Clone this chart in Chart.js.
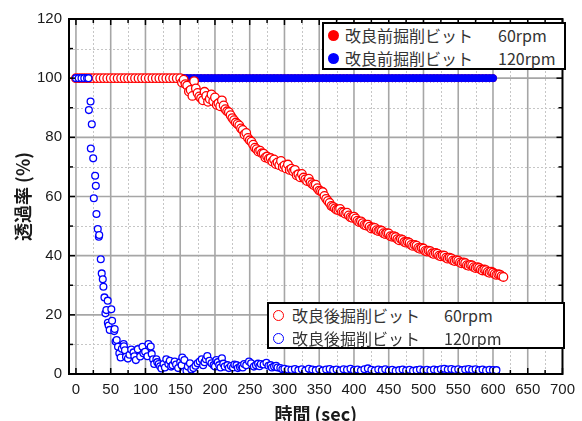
<!DOCTYPE html>
<html lang="ja">
<head>
<meta charset="utf-8">
<script src="https://cdn.jsdelivr.net/npm/chart.js@4.4.1/dist/chart.umd.min.js"></script>
<style>
html,body{margin:0;padding:0;background:#fff}
#wrap{position:relative;width:582px;height:421px}
.legend{position:absolute;background:#fff;border:2px solid #000;box-sizing:border-box;font-family:"Noto Sans CJK JP",sans-serif;font-size:16px;color:#333}
.row{position:absolute;left:0;right:0;height:20px;line-height:20px;white-space:nowrap}
.mark{position:absolute;top:4.5px;left:3.5px;width:11px;height:11px;border-radius:50%;box-sizing:border-box}
.name,.rpm{position:absolute;top:0}
</style>
</head>
<body>
<div id="wrap">
<canvas id="chart" width="582" height="421"></canvas>

<div class="legend" style="left:322px;top:22px;width:244px;height:48px">
  <div class="row" style="top:1px"><span class="mark" style="background:#ff0000"></span><span class="name" style="left:21px">改良前掘削ビット</span><span class="rpm" style="left:174px">60rpm</span></div>
  <div class="row" style="top:24px"><span class="mark" style="background:#0000ff"></span><span class="name" style="left:21px">改良前掘削ビット</span><span class="rpm" style="left:174px">120rpm</span></div>
</div>

<div class="legend" style="left:267px;top:302px;width:298px;height:47px">
  <div class="row" style="top:1px"><span class="mark" style="border:1.6px solid #ff0000"></span><span class="name" style="left:23px">改良後掘削ビット</span><span class="rpm" style="left:175px">60rpm</span></div>
  <div class="row" style="top:24px"><span class="mark" style="border:1.6px solid #0000ff"></span><span class="name" style="left:23px">改良後掘削ビット</span><span class="rpm" style="left:175px">120rpm</span></div>
</div>
</div>

<script>
/* ---------------- DATA ---------------- */

const xTicks = [0,50,100,150,200,250,300,350,400,450,500,550,600,650,700]
const yTicks = [0,20,40,60,80,100,120]

// 改良前 (both speeds stay at 100 %)
const beforeTime = [
0,5,10,15,20,25,30,35,40,45,50,55,60,65,70,75,80,85,90,95,
100,105,110,115,120,125,130,135,140,145,150,155,160,165,170,175,180,185,190,195,
200,205,210,215,220,225,230,235,240,245,250,255,260,265,270,275,280,285,290,295,
300,305,310,315,320,325,330,335,340,345,350,355,360,365,370,375,380,385,390,395,
400,405,410,415,420,425,430,435,440,445,450,455,460,465,470,475,480,485,490,495,
500,505,510,515,520,525,530,535,540,545,550,555,560,565,570,575,580,585,590,595,
600]
const before60Vals = [
100,100,100,100,100,100,100,100,100,100,100,100,100,100,100,100,100,100,100,100,
100,100,100,100,100,100,100,100,100,100,100,100,100,100,100,100,100,100,100,100,
100,100,100,100,100,100,100,100,100,100,100,100,100,100,100,100,100,100,100,100,
100,100,100,100,100,100,100,100,100,100,100,100,100,100,100,100,100,100,100,100,
100,100,100,100,100,100,100,100,100,100,100,100,100,100,100,100,100,100,100,100,
100,100,100,100,100,100,100,100,100,100,100,100,100,100,100,100,100,100,100,100,
100]
const before120Vals = [
100,100,100,100,100,100,100,100,100,100,100,100,100,100,100,100,100,100,100,100,
100,100,100,100,100,100,100,100,100,100,100,100,100,100,100,100,100,100,100,100,
100,100,100,100,100,100,100,100,100,100,100,100,100,100,100,100,100,100,100,100,
100,100,100,100,100,100,100,100,100,100,100,100,100,100,100,100,100,100,100,100,
100,100,100,100,100,100,100,100,100,100,100,100,100,100,100,100,100,100,100,100,
100,100,100,100,100,100,100,100,100,100,100,100,100,100,100,100,100,100,100,100,
100]

// 改良後 60rpm
const after60Time = [
0,5,10,15,20,25,30,35,40,45,50,55,60,65,70,75,80,85,90,95,
100,105,110,115,120,125,130,135,140,145,
150,152.5,155,157.5,160,162.5,165,167.5,170,172.5,175,177.5,180,182.5,185,187.5,190,192.5,195,197.5,
200,202.5,205,207.5,210,212.5,215,217.5,220,222.5,225,227.5,230,232.5,235,237.5,240,242.5,245,247.5,
250,252.5,255,257.5,260,262.5,265,267.5,270,272.5,275,277.5,280,282.5,285,287.5,290,292.5,295,297.5,
300,302.5,305,307.5,310,312.5,315,317.5,320,322.5,325,327.5,330,332.5,335,337.5,340,342.5,345,347.5,
350,352.5,355,357.5,360,362.5,365,367.5,370,372.5,375,377.5,380,382.5,385,387.5,390,392.5,395,397.5,
400,402.5,405,407.5,410,412.5,415,417.5,420,422.5,425,427.5,430,432.5,435,437.5,440,442.5,445,447.5,
450,452.5,455,457.5,460,462.5,465,467.5,470,472.5,475,477.5,480,482.5,485,487.5,490,492.5,495,497.5,
500,502.5,505,507.5,510,512.5,515,517.5,520,522.5,525,527.5,530,532.5,535,537.5,540,542.5,545,547.5,
550,552.5,555,557.5,560,562.5,565,567.5,570,572.5,575,577.5,580,582.5,585,587.5,590,592.5,595,597.5,
600,602.5,605,607.5,610,612.5,615]
const after60Vals = [
100,100,100,100,100,100,100,100,100,100,100,100,100,100,100,100,100,100,100,100,
100,100,100,100,100,100,100,100,100,100,
100,98.5,99.5,98,97.5,95.5,96,94,99,96.5,95,93.8,93.2,92.5,95.4,94,92,93,94.5,92.2,
93.5,91,91.5,90.5,92.5,90.8,89.5,88.8,88.5,87.5,86.5,85.8,85,84.5,84,83,82.5,81,81.5,79.8,
79,78.5,77.5,76.5,76,75.2,75.5,74.6,74.5,73.2,73.5,72.8,73,71.8,72.5,71,71.5,70.6,72,70,
70.5,69.5,70.8,69,69.4,68.5,69,67.2,67.5,66.5,67.6,66.4,65.8,65.2,66,64.8,64.2,63.8,64,62.8,
62,61.8,61.5,60.2,59.2,58.5,57.8,56.8,56.5,56,55.5,55.4,55.8,54.8,54.6,54.2,54.5,53.6,53,52.8,
53.2,52.6,51.8,51.4,51.6,51,50.4,50.2,50.5,49.8,49.2,49.5,49.4,48.6,48.3,48.6,48.4,47.6,47.3,47.6,
47.5,46.6,46.4,46.6,46.3,45.6,45.2,45.6,45.3,44.6,44.4,44.6,44.3,43.6,43.3,43.6,43.4,42.6,42.3,42.6,
42.4,41.6,41.4,41.7,41.5,40.8,40.6,40.9,40.7,40,39.8,40.1,40,39.3,39,39.3,39.1,38.4,38.2,38.5,
38.3,37.7,37.4,37.7,37.5,36.8,36.6,36.9,36.7,36.1,35.8,36.1,35.9,35.3,35,35.3,35.1,34.5,34.2,34.6,
34.3,33.8,33.5,33.7,33.6,33.1,32.8]

// 改良後 120rpm
const after120Time = [
0,4,8,12,16,18,18.6,21,21.4,22.8,24.8,25.7,27.6,28.6,29.5,31.4,32.9,33.5,35.7,37.1,
38.6,39.5,41,42.4,43.8,45.7,45.9,47,48.6,50.9,52,55,55.7,57,58.6,60.5,62.4,64.3,66,68.6,
69,70.5,72,74.8,77,79.5,82.8,84,86.2,89,92.4,95.7,97,99.5,102.8,104.3,107.6,109,111,112.6,
115.7,117,119,121,123,126,128,130,133,135,137,139,142,144,147,150,152,153,156,159,
161,164,166,169,172,175,178,181,183,185,187,189,192,195,198,200,202,204,206,208,
210,212,214,218,220,223,226,228,231,233,236,238,240,242,245,249,252,256,259,262,
264,266,270,274,277,280,282,285,288,290,294,297,300,305,310,315,320,325,330,335,
340,345,350,355,360,365,370,375,380,385,390,395,400,405,410,415,420,425,430,435,
440,445,450,455,460,465,470,475,480,485,490,495,500,505,510,515,520,525,530,535,
540,545,550,555,560,565,570,575,580,585,590,595,600,605]
const after120Vals = [
100,100,100,100,100,100,89.2,92.1,76.2,84.4,72.9,59.4,67,63.6,54.1,49,46.4,47,38.8,34,
32,29.5,25.9,20.5,21.6,24.8,17.3,16.4,14.9,21.9,18,14.5,15.2,11,11.5,9.2,7,5.6,8.5,10.1,
9.4,8,5.8,5.2,6.5,8.3,7.3,6,4.7,8.4,5.9,9.2,7,7.5,6,10.1,9.3,6.8,5,3.4,
5,4,3.4,2.6,1.9,3.4,2.2,5,3.4,4.5,2.5,3,4.2,3.2,2,4,3,5.6,4.7,1.1,
2.5,3.6,1.5,2,2.8,3.6,4.2,5,3,4,5,6.1,4.5,3.6,3,2.5,4.7,4,3,2.2,
5.3,3.5,2.5,3,2,2.7,2.2,3.2,3,2,2.4,2.8,2.2,3.4,3,4.2,3.6,2.5,3,3.5,
2.6,3.4,3.2,3.8,2.8,3,2.2,2.5,2.8,2.2,2,1.6,1.8,1.5,1.4,1.7,1.3,1.6,1.2,1.8,
1.5,1.3,1.6,1.2,1.5,1.7,1.3,1.5,1.2,1.6,1.4,1.8,1.3,1.5,1.2,1.6,1.9,1.4,1.2,1.5,
1.3,1.6,1.2,1.4,1.1,1.3,1.5,1.2,1.4,1.1,1.3,1.5,1.2,1.4,1.2,1.5,1.3,1.6,1.8,1.5,
1.7,1.4,1.6,1.3,1.5,1.7,1.4,1.6,1.3,1.5,1.2,1.4,1.3,1.3]


/* ---------------- CHART ---------------- */

const pts = (xs, ys) => xs.map((x, i) => ({x: x, y: ys[i]}))

const tickFont = {family: "'Liberation Sans', Arial, sans-serif", size: 15}
const titleFont = {family: "'Noto Sans CJK JP', sans-serif", size: 18, weight: "bold"}

// grid, inward ticks and frame
const framePlugin = {
id: "frame",
beforeDatasetsDraw(chart){
const {ctx, chartArea: a, scales: {x, y}} = chart
const line = (x1, y1, x2, y2) => { ctx.beginPath(); ctx.moveTo(x1, y1); ctx.lineTo(x2, y2); ctx.stroke() }
ctx.save()
ctx.strokeStyle = "#c6c6c6"
ctx.lineWidth = 1
ctx.setLineDash([2, 2])
for(let i = 0; i < xTicks.length - 1; i++){
const px = Math.round(x.getPixelForValue((xTicks[i] + xTicks[i+1]) / 2)) + 0.5
line(px, a.top, px, a.bottom)
}
for(let i = 0; i < yTicks.length - 1; i++){
const py = Math.round(y.getPixelForValue((yTicks[i] + yTicks[i+1]) / 2)) + 0.5
line(a.left, py, a.right, py)
}
ctx.setLineDash([])
ctx.strokeStyle = "#a6a6a6"
ctx.lineWidth = 1.6
xTicks.slice(0, -1).forEach(v => {
const px = x.getPixelForValue(v)
line(px, a.top, px, a.bottom)
})
yTicks.slice(1, -1).forEach(v => {
const py = y.getPixelForValue(v)
line(a.left, py, a.right, py)
})
ctx.restore()
},
afterDatasetsDraw(chart){
const {ctx, chartArea: a, scales: {x, y}} = chart
const line = (x1, y1, x2, y2) => { ctx.beginPath(); ctx.moveTo(x1, y1); ctx.lineTo(x2, y2); ctx.stroke() }
ctx.save()
ctx.strokeStyle = "#000"
ctx.lineWidth = 1.5
for(let i = 0; i < xTicks.length; i++){
const px = x.getPixelForValue(xTicks[i])
line(px, a.bottom, px, a.bottom - 6)
line(px, a.top, px, a.top + 6)
if(i < xTicks.length - 1){
const pm = x.getPixelForValue((xTicks[i] + xTicks[i+1]) / 2)
line(pm, a.bottom, pm, a.bottom - 4)
line(pm, a.top, pm, a.top + 4)
}
}
for(let i = 0; i < yTicks.length; i++){
const py = y.getPixelForValue(yTicks[i])
line(a.left, py, a.left + 6, py)
line(a.right, py, a.right - 6, py)
if(i < yTicks.length - 1){
const pm = y.getPixelForValue((yTicks[i] + yTicks[i+1]) / 2)
line(a.left, pm, a.left + 4, pm)
line(a.right, pm, a.right - 4, pm)
}
}
ctx.lineWidth = 2
ctx.strokeRect(a.left, a.top, a.right - a.left, a.bottom - a.top)
ctx.restore()
}
}

new Chart(document.getElementById("chart"),{
type:"scatter",
data:{
datasets:[
{
label:"改良後掘削ビット 120rpm",
data:pts(after120Time, after120Vals),
pointRadius:3.4,
borderWidth:1.3,
borderColor:"#0000ff",
backgroundColor:"#ffffff"
},
{
label:"改良後掘削ビット 60rpm",
data:pts(after60Time, after60Vals),
pointRadius:4.3,
borderWidth:1.3,
borderColor:"#ff0000",
backgroundColor:"#ffffff"
},
{
label:"改良前掘削ビット 120rpm",
data:pts(beforeTime, before120Vals),
pointRadius:3.6,
borderWidth:1,
borderColor:"#0000ff",
backgroundColor:"#0000ff"
},
{
label:"改良前掘削ビット 60rpm",
data:pts(beforeTime, before60Vals),
pointRadius:3.6,
borderWidth:1,
borderColor:"#ff0000",
backgroundColor:"#ff0000"
}
]
},
options:{
responsive:false,
animation:false,
devicePixelRatio:1,
events:[],
layout:{padding:{left:0,right:15,top:19,bottom:0}},
plugins:{legend:{display:false},tooltip:{enabled:false}},
scales:{
x:{
type:"linear",
min:-10,
max:700,
afterBuildTicks:s => { s.ticks = xTicks.map(v => ({value:v})) },
afterFit:s => { s.height = 47 },
grid:{display:false,drawTicks:false},
border:{display:false},
ticks:{padding:7,font:tickFont,color:"#1a1a1a",maxRotation:0,autoSkip:false},
title:{display:true,text:"時間 (sec)",font:{...titleFont,lineHeight:0.8},color:"#1a1a1a",padding:{top:0,bottom:0}}
},
y:{
type:"linear",
min:0,
max:120,
afterBuildTicks:s => { s.ticks = yTicks.map(v => ({value:v})) },
afterFit:s => { s.width = 69 },
grid:{display:false,drawTicks:false},
border:{display:false},
ticks:{padding:7,font:tickFont,color:"#1a1a1a",autoSkip:false},
title:{display:true,text:"透過率 (%)",font:titleFont,color:"#1a1a1a",padding:{top:12,bottom:0}}
}
}
},
plugins:[framePlugin]
})
</script>
</body>
</html>
